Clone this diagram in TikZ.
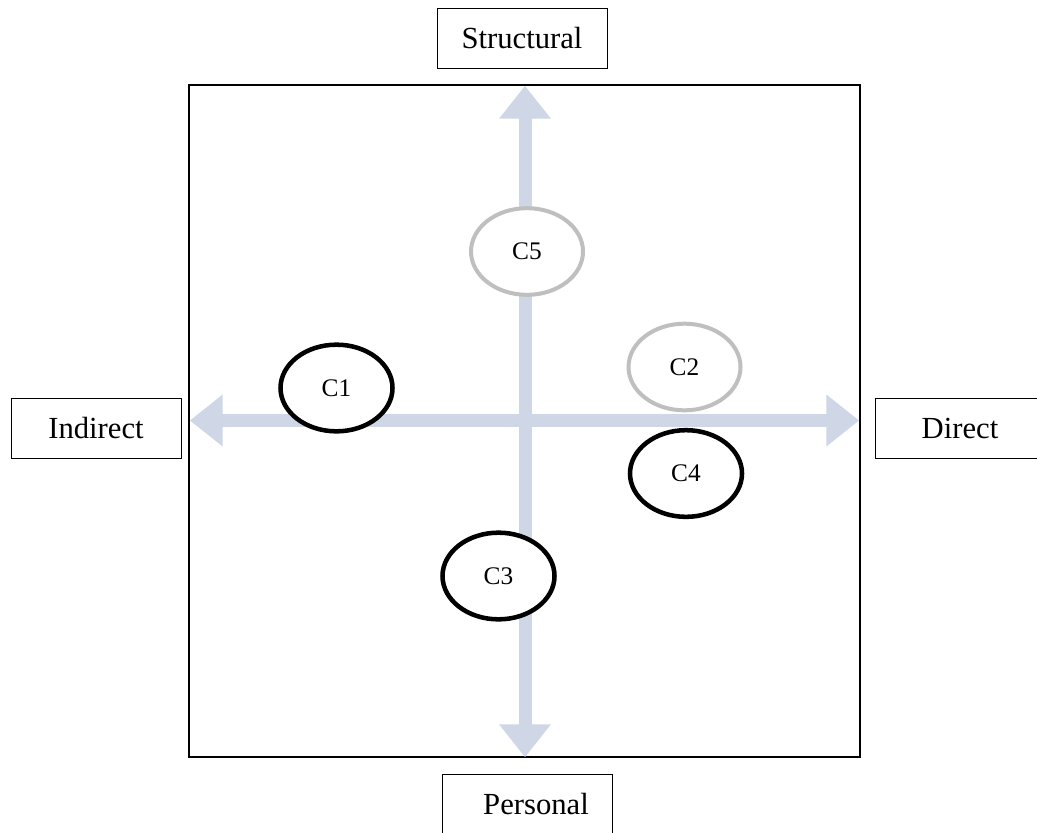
\documentclass[tikz,border=0pt]{standalone}
\usepackage{fontspec}
\setmainfont{Liberation Serif}
\usetikzlibrary{arrows.meta,shapes.geometric}
\definecolor{axisblue}{RGB}{207,214,230}
\definecolor{ringgray}{RGB}{191,191,191}

\begin{document}
\begin{tikzpicture}[x=0.75pt,y=0.75pt,yscale=-1,xscale=1,
    labelbox/.style={draw,line width=0.75pt,minimum width=127.5pt,minimum height=45pt,inner sep=0pt,font=\fontsize{23}{27}\selectfont},
    ring/.style={ellipse,draw,fill=white,line width=3.4pt,minimum width=84pt,minimum height=65pt,inner sep=0pt,font=\fontsize{19}{22}\selectfont},
    blackring/.style={ring,draw=black},
    grayring/.style={ring,draw=ringgray,line width=3pt},
    axisshaft/.style={draw=axisblue,line width=9.75pt,shorten <=20pt,shorten >=20pt},
    axisarrow/.style={draw=axisblue,line width=9.75pt,
      arrows={{Triangle[width=39pt,length=24.5pt,line width=0pt]}-{Triangle[width=39pt,length=24.5pt,line width=0pt]}}}]
              \useasboundingbox (0,0) rectangle (1037,832);
              \clip (0,0) rectangle (1037,832);
              % frame
              \draw[line width=1.5pt] (189,85) rectangle (860,757);
              % axis ends
              \coordinate (axis-l) at (190,420.5);
              \coordinate (axis-r) at (859,420.5);
              \coordinate (axis-t) at (525,86);
              \coordinate (axis-b) at (525,757);
              \draw[axisarrow] (axis-l) -- (axis-r);
              \draw[axisarrow] (axis-t) -- (axis-b);
              \draw[axisshaft] (axis-l) -- (axis-r);
              \draw[axisshaft] (axis-t) -- (axis-b);
              % axis labels
              \node[labelbox] (structural) at (522,38.5) {Structural};
              \node[labelbox] (indirect) at (96,428) {Indirect};
              \node[labelbox] (direct) at (960,428) {Direct};
              \node[labelbox] (personal) at (527,804) {\hspace{13.5pt}Personal};
              % clusters
              \node[blackring] (c1) at (336.5,388) {C1};
              \node[grayring] (c2) at (684.5,367) {C2};
              \node[blackring] (c3) at (498.5,576) {C3};
              \node[blackring] (c4) at (686,473.5) {C4};
              \node[grayring] (c5) at (527,251.5) {C5};
            \end{tikzpicture}
\end{document}
